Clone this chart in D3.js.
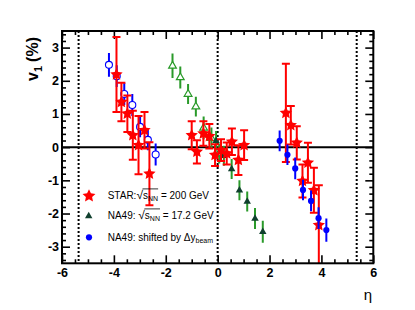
<!DOCTYPE html>
<html><head><meta charset="utf-8">
<script src="https://cdn.jsdelivr.net/npm/d3@7"></script>
<style>
body{margin:0;background:#fff;}
svg{display:block;font-family:"Liberation Sans",Arial,Helvetica,sans-serif;}
</style>
</head><body>
<svg id="chart" width="415" height="310"></svg>
<script>
// ---- data ----
// STAR, sqrt(sNN) = 200 GeV
const starEta = [-3.90, -3.71, -3.48, -3.27, -3.05, -2.82, -2.63,
                 -1.00, -0.80, -0.55, -0.32, -0.10, 0.13, 0.35, 0.55, 0.80, 1.02,
                 2.63, 2.82, 3.05, 3.27, 3.48, 3.71, 3.90];
const starV1  = [2.19, 1.36, 1.01, 0.36, 0.06, 0.51, -0.80,
                 0.36, -0.14, 0.41, 0.33, -0.24, -0.09, -0.19, 0.16, -0.39, 0.06,
                 1.03, 0.66, 0.13, -1.02, -0.47, -1.30, -2.35];
const starErr = [1.13, 0.58, 0.55, 0.74, 0.88, 0.55, 0.95,
                 0.42, 0.35, 0.37, 0.37, 0.33, 0.33, 0.33, 0.40, 0.45, 0.45,
                 1.48, 0.58, 0.50, 0.50, 0.60, 0.68, 1.20];
// NA49, sqrt(sNN) = 17.2 GeV (measured, filled)
const na49Eta = [-0.06, 0.24, 0.54, 0.84, 1.14, 1.44, 1.74];
const na49V1  = [0.19, -0.26, -0.66, -1.30, -1.64, -2.15, -2.55];
const na49Err = [0.30, 0.30, 0.30, 0.30, 0.30, 0.32, 0.33];
// NA49 reflected (open)
const na49ReflEta = [0.06, -0.24, -0.54, -0.84, -1.14, -1.44, -1.74];
const na49ReflV1  = [-0.19, 0.27, 0.58, 1.22, 1.60, 2.10, 2.45];
const na49ReflErr = [0.30, 0.32, 0.34, 0.30, 0.30, 0.33, 0.37];
// NA49 shifted by delta y_beam (filled)
const shiftEta = [2.39, 2.69, 2.99, 3.29, 3.60, 3.89, 4.19];
const shiftV1  = [0.19, -0.23, -0.64, -1.29, -1.62, -2.14, -2.50];
const shiftErr = [0.31, 0.31, 0.33, 0.31, 0.31, 0.33, 0.35];
// NA49 shifted, reflected (open)
const shiftReflEta = [-2.39, -2.69, -2.99, -3.29, -3.60, -3.89, -4.19];
const shiftReflV1  = [-0.22, 0.22, 0.61, 1.27, 1.60, 2.14, 2.48];
const shiftReflErr = [0.33, 0.31, 0.31, 0.33, 0.33, 0.33, 0.36];
// beam rapidity markers
const beamLines = [-5.36, 0, 5.36];
const xTicks = [-6, -4, -2, 0, 2, 4, 6];
const yTicks = [-3, -2, -1, 0, 1, 2, 3];

// ---- layout ----
const svg = d3.select("#chart");
const L = 62, R = 373.3, T = 31, B = 263.3;
const x = d3.scaleLinear().domain([-6, 6]).range([L, R]);
const y = d3.scaleLinear().domain([-3.5, 3.5]).range([B, T]);

svg.append("defs").append("clipPath").attr("id", "clip")
  .append("rect").attr("x", L).attr("y", T).attr("width", R - L).attr("height", B - T);

const xMinor = d3.range(-6, 6.001, 0.5).filter(v => Math.abs(v / 2 - Math.round(v / 2)) > 1e-6);
const yMinor = d3.range(-3.4, 3.401, 0.2).map(v => +v.toFixed(1)).filter(v => Math.abs(v - Math.round(v)) > 1e-6);

function styleAxis(g) {
  g.select(".domain").remove();
  g.selectAll(".tick line").attr("stroke", "#000").attr("stroke-width", 1.6);
  g.selectAll(".tick text").attr("fill", "#000").attr("font-weight", "bold")
    .attr("font-size", 12.5).attr("font-family", "Liberation Sans, Arial, sans-serif");
}
const fmt = d => String(d);
// bottom
svg.append("g").attr("transform", `translate(0,${B})`)
  .call(d3.axisBottom(x).tickValues(xTicks).tickSize(-8).tickPadding(5).tickFormat(fmt)).call(styleAxis);
svg.append("g").attr("transform", `translate(0,${B})`)
  .call(d3.axisBottom(x).tickValues(xMinor).tickSize(-4).tickFormat("")).call(styleAxis);
// top
svg.append("g").attr("transform", `translate(0,${T})`)
  .call(d3.axisTop(x).tickValues(xTicks).tickSize(-8).tickFormat("")).call(styleAxis);
svg.append("g").attr("transform", `translate(0,${T})`)
  .call(d3.axisTop(x).tickValues(xMinor).tickSize(-4).tickFormat("")).call(styleAxis);
// left
svg.append("g").attr("transform", `translate(${L},0)`)
  .call(d3.axisLeft(y).tickValues(yTicks).tickSize(-8).tickPadding(3).tickFormat(fmt)).call(styleAxis);
svg.append("g").attr("transform", `translate(${L},0)`)
  .call(d3.axisLeft(y).tickValues(yMinor).tickSize(-4).tickFormat("")).call(styleAxis);
// right
svg.append("g").attr("transform", `translate(${R},0)`)
  .call(d3.axisRight(y).tickValues(yTicks).tickSize(-8).tickFormat("")).call(styleAxis);
svg.append("g").attr("transform", `translate(${R},0)`)
  .call(d3.axisRight(y).tickValues(yMinor).tickSize(-4).tickFormat("")).call(styleAxis);

// reference lines
svg.append("g").selectAll("line").data(beamLines).join("line")
  .attr("x1", d => x(d)).attr("x2", d => x(d)).attr("y1", T).attr("y2", B)
  .attr("stroke", "#000").attr("stroke-width", 2).attr("stroke-dasharray", "2,2");
svg.append("line").attr("x1", L).attr("x2", R).attr("y1", y(0)).attr("y2", y(0))
  .attr("stroke", "#000").attr("stroke-width", 2);

const plot = svg.append("g").attr("clip-path", "url(#clip)");

function zip(a, b, c) { return a.map((v, i) => ({eta: v, v1: b[i], err: c[i]})); }

// fatter five-pointed star (ROOT-like marker 29)
const fatStar = {
  draw(ctx, size) {
    const r = Math.sqrt(size), ri = r * 0.48;
    for (let i = 0; i < 10; i++) {
      const a = -Math.PI / 2 + i * Math.PI / 5, rr = i % 2 ? ri : r;
      const px = rr * Math.cos(a), py = rr * Math.sin(a);
      if (i === 0) ctx.moveTo(px, py); else ctx.lineTo(px, py);
    }
    ctx.closePath();
  }
};

function errBars(data, color, cap) {
  const g = plot.append("g");
  g.selectAll("line.e").data(data).join("line").attr("class", "e")
    .attr("x1", d => x(d.eta)).attr("x2", d => x(d.eta))
    .attr("y1", d => y(d.v1 + d.err)).attr("y2", d => y(d.v1 - d.err))
    .attr("stroke", color).attr("stroke-width", 2);
  if (cap) {
    ["+", "-"].forEach(s => {
      g.selectAll("line.c" + (s === "+" ? "p" : "m")).data(data).join("line")
        .attr("class", "c" + (s === "+" ? "p" : "m"))
        .attr("x1", d => x(d.eta) - cap).attr("x2", d => x(d.eta) + cap)
        .attr("y1", d => y(s === "+" ? d.v1 + d.err : d.v1 - d.err))
        .attr("y2", d => y(s === "+" ? d.v1 + d.err : d.v1 - d.err))
        .attr("stroke", color).attr("stroke-width", 2);
    });
  }
}
function markers(data, sym, size, fill, stroke, sw) {
  plot.append("g").selectAll("path").data(data).join("path")
    .attr("transform", d => `translate(${x(d.eta)},${y(d.v1)})`)
    .attr("d", d3.symbol(sym, size)())
    .attr("fill", fill).attr("stroke", stroke).attr("stroke-width", sw);
}

const green = "#2a9a2a", darkGreen = "#10402e", blue = "#0000ff", red = "#ff0000";

// NA49 reflected (open triangles)
const na49Refl = zip(na49ReflEta, na49ReflV1, na49ReflErr);
errBars(na49Refl, green, 0);
markers(na49Refl, d3.symbolTriangle, 26, "#fff", green, 1.2);
// NA49 measured
const na49 = zip(na49Eta, na49V1, na49Err);
errBars(na49, green, 0);
markers(na49, d3.symbolTriangle, 24, darkGreen, "none", 0);
// NA49 shifted reflected (open circles)
const shiftRefl = zip(shiftReflEta, shiftReflV1, shiftReflErr);
errBars(shiftRefl, blue, 0);
markers(shiftRefl, d3.symbolCircle, Math.PI * 3.5 * 3.5, "#fff", blue, 1.1);
// STAR
const star = zip(starEta, starV1, starErr);
errBars(star, red, 4);
markers(star, fatStar, 42, red, "none", 0);
// NA49 shifted (filled circles)
const shift = zip(shiftEta, shiftV1, shiftErr);
errBars(shift, blue, 0);
markers(shift, d3.symbolCircle, Math.PI * 3.1 * 3.1, blue, "none", 0);

// frame
svg.append("rect").attr("x", L).attr("y", T).attr("width", R - L).attr("height", B - T)
  .attr("fill", "none").attr("stroke", "#000").attr("stroke-width", 2);

// axis titles
const yt = svg.append("text").attr("transform", "translate(38,59) rotate(-90)")
  .attr("text-anchor", "middle").attr("font-weight", "bold").attr("font-size", 16);
yt.append("tspan").text("v");
yt.append("tspan").attr("font-size", 11).attr("dy", 4).text("1");
yt.append("tspan").attr("dy", -4).attr("dx", 4).text("(%)");
svg.append("text").attr("x", 368).attr("y", 300).attr("text-anchor", "middle")
  .attr("font-size", 15).text("η");

// legend
const legX = 107.7, legFs = 10;
function sqrtLine(ypos, prefix, rest) {
  const t = svg.append("text").attr("x", legX).attr("y", ypos).attr("font-size", legFs);
  t.append("tspan").text(prefix);
  t.append("tspan").attr("font-size", 12).text("√");
  t.append("tspan").text("s");
  t.append("tspan").attr("font-size", 7).attr("dy", 2.5).text("NN");
  t.append("tspan").attr("dy", -2.5).text(rest);
  const node = t.node();
  const i0 = prefix.length + 1, i1 = prefix.length + 3;
  const a = node.getExtentOfChar(i0), b = node.getExtentOfChar(i1);
  svg.append("line").attr("x1", a.x - 0.5).attr("x2", b.x + b.width)
    .attr("y1", ypos - 9.6).attr("y2", ypos - 9.6).attr("stroke", "#000").attr("stroke-width", 0.8);
}
sqrtLine(198.5, "STAR:", " = 200 GeV");
sqrtLine(218.5, "NA49: ", " = 17.2 GeV");
const t3 = svg.append("text").attr("x", legX).attr("y", 240.7).attr("font-size", legFs);
t3.append("tspan").text("NA49: shifted by  ");
t3.append("tspan").text("Δy");
t3.append("tspan").attr("font-size", 7).attr("dy", 2.5).text("beam");

svg.append("path").attr("transform", "translate(89,196)").attr("d", d3.symbol(fatStar, 46)()).attr("fill", red);
svg.append("path").attr("transform", "translate(88.7,216)").attr("d", d3.symbol(d3.symbolTriangle, 24)()).attr("fill", darkGreen);
svg.append("circle").attr("cx", 89).attr("cy", 237.3).attr("r", 3.1).attr("fill", blue);
</script>
</body></html>
